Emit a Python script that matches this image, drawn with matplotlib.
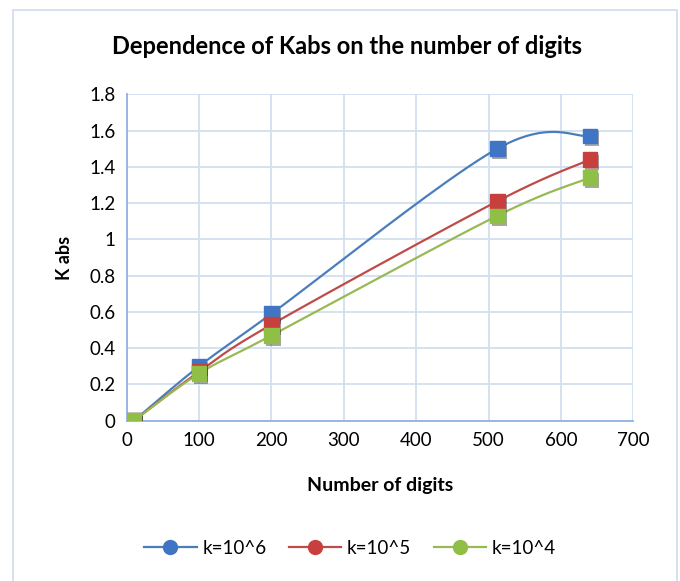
import numpy as np
import matplotlib
matplotlib.use('Agg')
import matplotlib.pyplot as plt
import matplotlib.patheffects as pe
from matplotlib.lines import Line2D
from matplotlib.patches import Rectangle

plt.rcParams['font.family'] = ['Lato', 'DejaVu Sans']

# data
digits = [10, 100, 200, 512, 640]
k_1e6 = [0.0, 0.30, 0.59, 1.50, 1.57]
k_1e5 = [0.0, 0.27, 0.53, 1.21, 1.44]
k_1e4 = [0.0, 0.26, 0.47, 1.13, 1.34]
labels = ['k=10^6', 'k=10^5', 'k=10^4']
line_colors = ['#4a7ebb', '#be4b48', '#98b954']
marker_colors = ['#3f75c4', '#c8403d', '#8fbf45']


def smooth(x, y, n=40):
    # excel-like smoothed line (catmull-rom as bezier segments)
    p = np.column_stack([x, y]).astype(float)
    p = np.vstack([p[0], p, p[-1]])
    out = []
    t = np.linspace(0, 1, n)[:, None]
    for i in range(1, len(p) - 2):
        p0, p3 = p[i], p[i + 1]
        c1 = p0 + (p[i + 1] - p[i - 1]) / 6
        c2 = p3 - (p[i + 2] - p[i]) / 6
        seg = ((1 - t) ** 3) * p0 + 3 * ((1 - t) ** 2) * t * c1 + 3 * (1 - t) * t ** 2 * c2 + t ** 3 * p3
        out.append(seg)
    seg = np.vstack(out)
    return seg[:, 0], seg[:, 1]


fig = plt.figure(figsize=(6.8, 5.81), dpi=100)
fig.patches.append(Rectangle((13 / 680, -0.02), 664 / 680, 1 - 10 / 581 + 0.02,
                             transform=fig.transFigure, fill=False,
                             edgecolor='#d0dcec', lw=1.2))
ax = fig.add_axes([0.1863, 0.2759, 0.9314 - 0.1863, 0.8377 - 0.2759])

series = [k_1e6, k_1e5, k_1e4]
for vals, lc in zip(series, line_colors):
    sx, sy = smooth(digits, vals)
    ax.plot(sx, sy, color=lc, lw=1.6, zorder=3)
for vals, mc in zip(series, marker_colors):
    ax.plot(digits, vals, 's', ms=10.5, color=mc, markeredgecolor=mc, zorder=4,
            path_effects=[pe.SimplePatchShadow(offset=(1.5, -2), shadow_rgbFace='k', alpha=0.35),
                          pe.Normal()])

ax.set_xlim(0, 700)
ax.set_ylim(0, 1.8)
ax.set_xticks(range(0, 701, 100))
ax.set_yticks(np.arange(0, 1.81, 0.2))
ax.set_yticklabels(['0', '0.2', '0.4', '0.6', '0.8', '1', '1.2', '1.4', '1.6', '1.8'])
ax.grid(True, color='#d3dff0', lw=1.3)
ax.set_axisbelow(True)
for s in ['top', 'right']:
    ax.spines[s].set_visible(False)
for s in ['left', 'bottom']:
    ax.spines[s].set_color('#8db3e2')
    ax.spines[s].set_linewidth(1.3)
ax.tick_params(length=0, labelsize=13.5, colors='black', pad=8)

fig.text(347 / 680, 1 - 47 / 581, 'Dependence of Kabs on the number of digits',
         fontsize=17, fontweight='bold', ha='center', va='center')
ax.set_xlabel('Number of digits', fontsize=14, fontweight='bold', labelpad=20)
ax.set_ylabel('K abs', fontsize=13, fontweight='bold', labelpad=12)

handles = [Line2D([0], [0], color=lc, lw=1.6, marker='o', ms=10, markerfacecolor=mc,
                  markeredgecolor=mc) for lc, mc in zip(line_colors, marker_colors)]
fig.legend(handles, labels, loc='center', bbox_to_anchor=(350 / 680, 1 - 548 / 581),
           ncol=3, frameon=False, fontsize=13.5, handlelength=2.8, columnspacing=1.2,
           handletextpad=0.3)

fig.savefig('out.png', dpi=100)
